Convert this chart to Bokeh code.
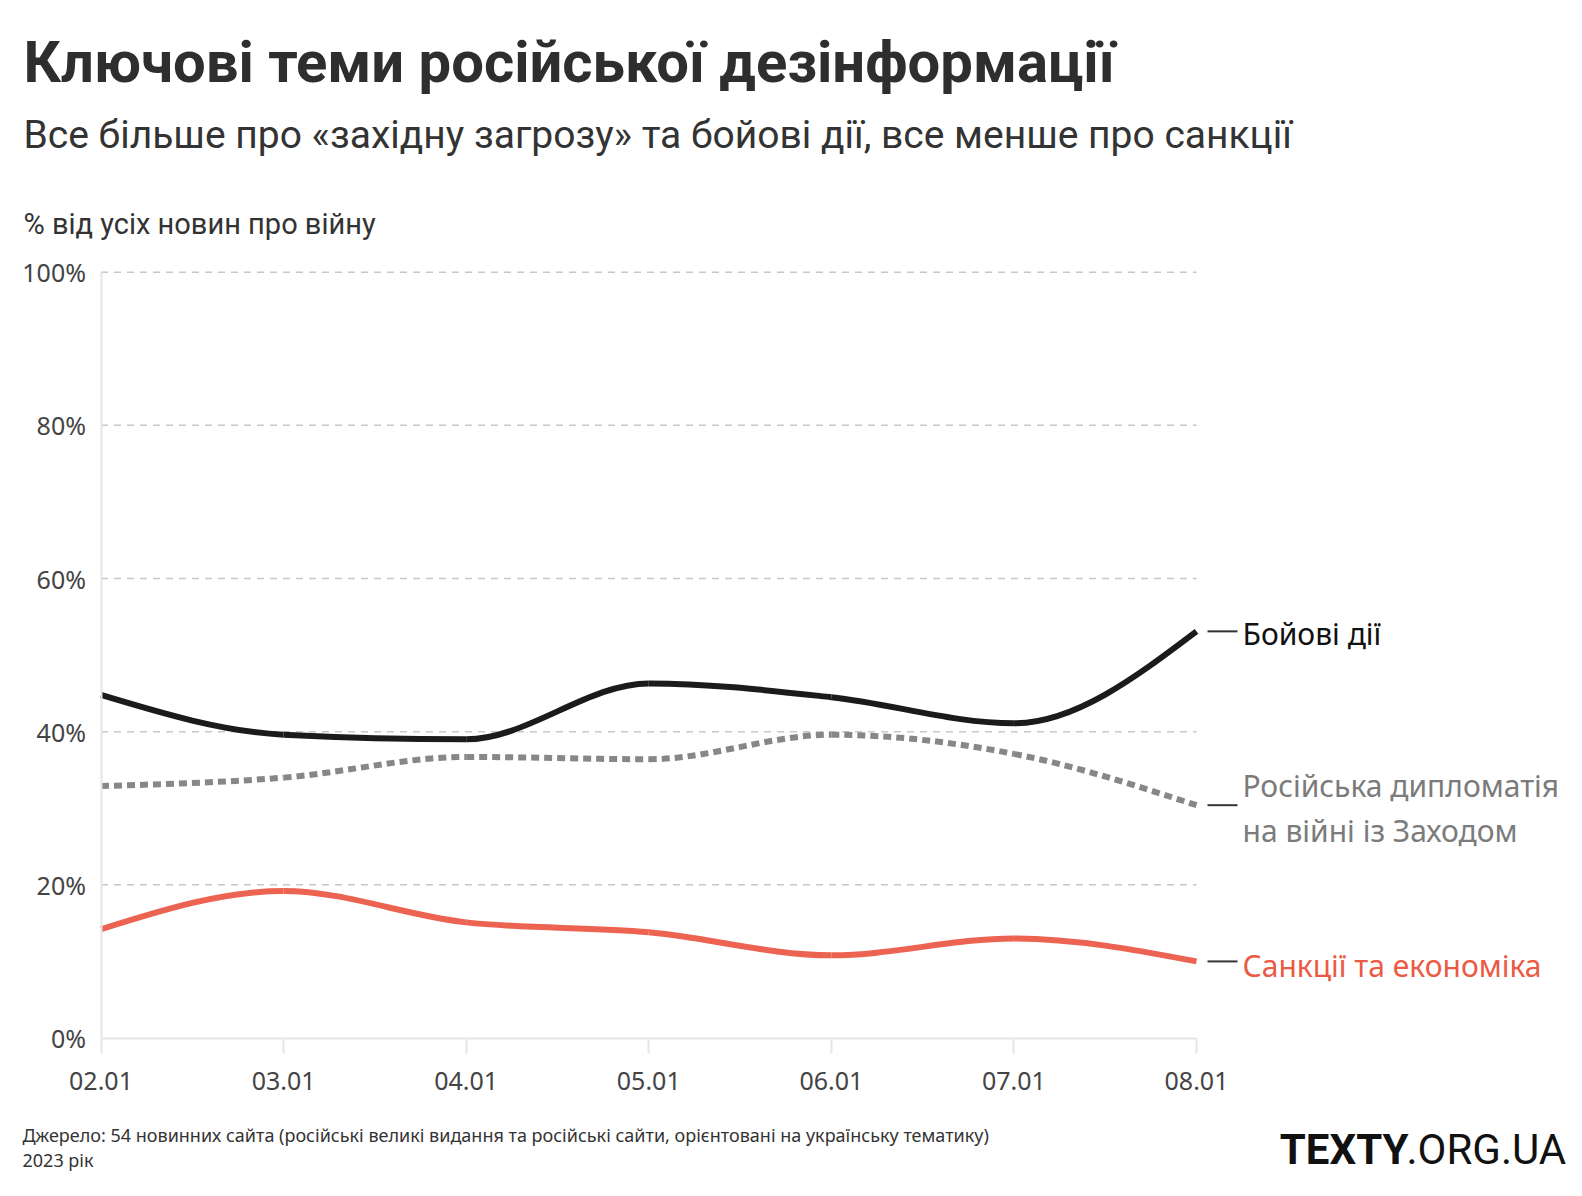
import numpy as np
from bokeh.plotting import figure
from bokeh.models import FixedTicker, Range1d, LinearAxis
from bokeh.core.properties import value
from bokeh.embed import file_html
from bokeh.resources import INLINE

# ---------------- data ----------------
dates = ["02.01", "03.01", "04.01", "05.01", "06.01", "07.01", "08.01"]
combat = [44.8, 39.6, 39.0, 46.3, 44.5, 41.1, 53.1]          # Бойові дії
diplomacy = [32.9, 34.0, 36.7, 36.4, 39.6, 37.1, 30.4]       # Російська дипломатія на війні із Заходом
sanctions = [14.2, 19.2, 15.1, 13.8, 10.8, 13.0, 10.0]       # Санкції та економіка
y_ticks = [0, 20, 40, 60, 80, 100]
grid_ticks = [20, 40, 60, 80, 100]

title = "Ключові теми російської дезінформації"
subtitle = "Все більше про «західну загрозу» та бойові дії, все менше про санкції"
y_label = "% від усіх новин про війну"
source = "Джерело: 54 новинних сайта (російські великі видання та російські сайти, орієнтовані на українську тематику)"
year = "2023 рік"
label_combat = "Бойові дії"
label_dipl = ["Російська дипломатія", "на війні із Заходом"]
label_sanc = "Санкції та економіка"

# ---------------- geometry (pixel <-> data) ----------------
W, H = 1566, 1180
X0_PX, X6_PX = 100.5, 1196.0
Y0_PX, Y100_PX = 1037.5, 271.7
XS = (X6_PX - X0_PX) / 6.0
YS = (Y0_PX - Y100_PX) / 100.0
X_START = -X0_PX / XS
X_END = X_START + W / XS
Y_START = -(H - Y0_PX) / YS
Y_END = Y_START + H / YS


def px2x(px):
    return (px - X0_PX) / XS


def py2y(py):
    return (Y0_PX - py) / YS


xs = list(range(len(dates)))


# ---------------- monotone (d3 curveMonotoneX) bezier ----------------
def _sign(v):
    return -1.0 if v < 0 else 1.0


def monotone_bezier(x, y):
    n = len(x)
    s = [(y[i + 1] - y[i]) / (x[i + 1] - x[i]) for i in range(n - 1)]
    t = [0.0] * n
    for i in range(1, n - 1):
        h0 = x[i] - x[i - 1]
        h1 = x[i + 1] - x[i]
        s0, s1 = s[i - 1], s[i]
        p_ = (s0 * h1 + s1 * h0) / (h0 + h1)
        t[i] = (_sign(s0) + _sign(s1)) * min(abs(s0), abs(s1), 0.5 * abs(p_))
    t[0] = (3 * s[0] - t[1]) / 2
    t[-1] = (3 * s[-1] - t[-2]) / 2
    d = dict(x0=[], y0=[], x1=[], y1=[], cx0=[], cy0=[], cx1=[], cy1=[])
    for i in range(n - 1):
        dx = (x[i + 1] - x[i]) / 3.0
        d["x0"].append(x[i]); d["y0"].append(y[i])
        d["x1"].append(x[i + 1]); d["y1"].append(y[i + 1])
        d["cx0"].append(x[i] + dx); d["cy0"].append(y[i] + dx * t[i])
        d["cx1"].append(x[i + 1] - dx); d["cy1"].append(y[i + 1] - dx * t[i + 1])
    return d


p = figure(width=W, height=H, output_backend="svg", toolbar_location=None,
           x_range=Range1d(X_START, X_END), y_range=Range1d(Y_START, Y_END),
           x_axis_location=None, y_axis_location=None, min_border=0, title=None)
p.background_fill_color = "white"
p.border_fill_color = "white"
p.outline_line_color = None
p.xgrid.visible = False
p.ygrid.visible = False

AXIS_COL = "#e6e6e6"
TICK_FONT = "Noto Sans"

yaxis = LinearAxis(fixed_location=0, bounds=(0, 100), ticker=FixedTicker(ticks=y_ticks))
yaxis.major_label_overrides = {v: f"{v}%" for v in y_ticks}
yaxis.axis_line_color = AXIS_COL
yaxis.axis_line_width = 2
yaxis.major_tick_line_color = None
yaxis.minor_tick_line_color = None
yaxis.major_label_standoff = 9
yaxis.major_label_text_font = TICK_FONT
yaxis.major_label_text_font_size = "25px"
yaxis.major_label_text_color = "#444444"
p.add_layout(yaxis, "left")

xaxis = LinearAxis(fixed_location=0, bounds=(0, 6), ticker=FixedTicker(ticks=xs))
xaxis.major_label_overrides = {i: d for i, d in enumerate(dates)}
xaxis.axis_line_color = AXIS_COL
xaxis.axis_line_width = 2
xaxis.major_tick_line_color = AXIS_COL
xaxis.major_tick_line_width = 2
xaxis.major_tick_out = 15
xaxis.major_tick_in = 0
xaxis.minor_tick_line_color = None
xaxis.major_label_standoff = 19
xaxis.major_label_text_font = TICK_FONT
xaxis.major_label_text_font_size = "25px"
xaxis.major_label_text_color = "#444444"
p.add_layout(xaxis, "below")

# dashed grid lines over the data span
p.segment(x0=[xs[0]] * len(grid_ticks), x1=[xs[-1]] * len(grid_ticks),
          y0=grid_ticks, y1=grid_ticks, line_color="#c8c8c8", line_width=1.5,
          line_dash="7 6")

RED = "#ec6351"
GRAY = "#878787"
BLACK = "#1b1b1b"

for series, col, dash in ((sanctions, RED, "solid"), (diplomacy, GRAY, "8 5"),
                          (combat, BLACK, "solid")):
    p.bezier(source=monotone_bezier(xs, series), x0="x0", y0="y0", x1="x1", y1="y1",
             cx0="cx0", cy0="cy0", cx1="cx1", cy1="cy1", line_color=col,
             line_width=6, line_dash=dash)

# leader dashes + end labels
last = [combat[-1], diplomacy[-1], sanctions[-1]]
p.segment(x0=[px2x(1207)] * 3, x1=[px2x(1237)] * 3, y0=last, y1=last,
          line_color="#333333", line_width=2)


def txt(s, px, py_center, size, font="Noto Sans", style="normal", color="#333333",
        align="left"):
    # py_center: vertical centre of capitals in page pixels
    p.text(x=[px2x(px)], y=[py2y(py_center + 0.07 * size)], text=[s], text_color=color,
           text_font=value(font), text_font_style=style, text_font_size=f"{size}px",
           text_baseline="middle", text_align=align)


LBL_X = 1242
txt(label_combat, LBL_X, 631, 30, color="#111111")
txt(label_dipl[0], LBL_X, 783, 30, color="#7b7b7b")
txt(label_dipl[1], LBL_X, 828, 30, color="#7b7b7b")
txt(label_sanc, LBL_X, 963, 30, color="#ec5a44")

# header
txt(title, 23, 57.5, 58, font="Roboto", style="bold", color="#2e2e2e")
txt(subtitle, 23, 131.7, 39, font="Roboto", color="#333333")
txt(y_label, 23, 221.5, 29, font="Roboto", color="#333333")

# footer
txt(source, 22, 1133, 18, color="#333333")
txt(year, 22, 1158, 18, color="#333333")
txt("TEXTY", 1408, 1146, 42, font="Roboto", style="bold", color="#111111", align="right")
txt(".ORG.UA", 1406, 1146, 42, font="Roboto", color="#111111", align="left")

open("out.html", "w").write(file_html(p, INLINE))
